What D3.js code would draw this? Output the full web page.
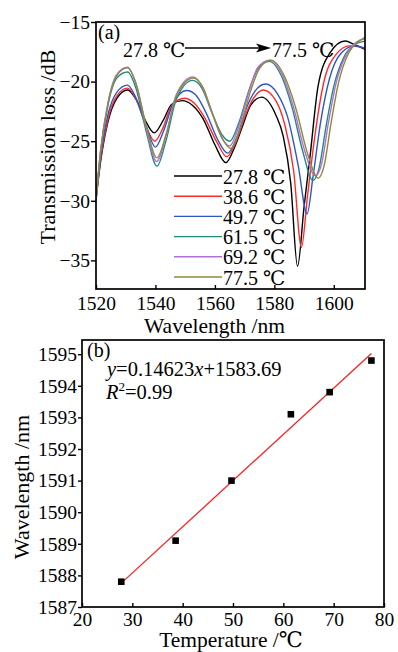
<!DOCTYPE html>
<html>
<head>
<meta charset="utf-8">
<script src="https://cdn.jsdelivr.net/npm/d3@7"></script>
<style>
  html, body { margin: 0; padding: 0; background: #fff; }
  svg { display: block; }
  text { font-family: "Liberation Serif", "Times New Roman", Times, "DejaVu Serif", serif; fill: #000; }
</style>
</head>
<body>
<svg id="chart" width="398" height="652"></svg>
<script>
// ---------- Panel (a): transmission spectra at six temperatures ----------
const wavelengthTicks = [1520, 1540, 1560, 1580, 1600];
const lossTicks = [-15, -20, -25, -30, -35];
const temperatureLabels = ["27.8 ℃", "38.6 ℃", "49.7 ℃", "61.5 ℃", "69.2 ℃", "77.5 ℃"];

// [wavelength (nm), transmission loss (dB)]
const spectrum27_8 = [
  [1520, -29.9], [1521.5, -26.8], [1524, -23.4], [1527, -21.4], [1530.6, -20.7],
  [1533.5, -21.5], [1536.5, -23.2], [1539.6, -24.3], [1542.5, -23.3], [1545.5, -21.9],
  [1549, -21.6], [1552.5, -22.0], [1556, -23.1], [1560, -25.3], [1563.7, -26.8],
  [1566.8, -25.4], [1569.5, -23.6], [1572, -22.0], [1575.7, -21.3], [1580.5, -22.8],
  [1583, -24.6], [1585.5, -28.5], [1587.8, -35.5], [1590, -30.5], [1592, -26.3],
  [1594.7, -20.4], [1598.7, -17.6], [1603.8, -16.6], [1607, -16.9], [1610.5, -17.3]
];
const spectrum38_6 = [
  [1520, -29.8], [1521.5, -26.6], [1524, -23.2], [1527, -21.2], [1530.6, -20.55],
  [1533.5, -21.5], [1536.5, -23.5], [1539.8, -25.0], [1542.5, -23.9], [1545.5, -22.0],
  [1549.8, -21.4], [1553, -21.8], [1556.5, -23.0], [1560.5, -25.0], [1564.0, -26.3],
  [1567.2, -25.0], [1570, -23.0], [1572.5, -21.6], [1576.3, -20.7], [1580.5, -21.6],
  [1583.5, -23.6], [1586.5, -27.5], [1589.1, -33.9], [1591.2, -29.5], [1593.5, -24.8],
  [1596.5, -20.2], [1600.5, -17.8], [1605.3, -17.0], [1608, -17.05], [1610.5, -17.2]
];
const spectrum49_7 = [
  [1520, -29.8], [1521.5, -26.4], [1524, -22.8], [1527, -20.9], [1530.6, -20.3],
  [1533.5, -21.4], [1536.8, -23.7], [1540.0, -25.5], [1542.8, -24.1], [1546, -21.8],
  [1550.5, -20.75], [1553.5, -21.1], [1557, -22.6], [1561, -24.9], [1564.3, -26.0],
  [1567.5, -24.6], [1570.5, -22.3], [1573.5, -20.8], [1577, -20.2], [1581, -21.0],
  [1584.5, -23.0], [1588, -27.0], [1591.0, -31.1], [1593, -28.0], [1595.5, -23.5],
  [1598.5, -19.8], [1602.5, -17.6], [1607, -17.0], [1610.5, -17.2]
];
const spectrum61_5 = [
  [1520, -30.0], [1521.5, -26.0], [1524, -22.0], [1527, -19.7], [1530.6, -19.2],
  [1533.5, -20.6], [1537, -24.3], [1540.5, -27.1], [1543.5, -25.0], [1547, -21.5],
  [1552.5, -19.9], [1555.5, -20.5], [1559, -22.6], [1562.5, -24.5], [1565.0, -25.0],
  [1568, -23.5], [1571.5, -20.7], [1574.5, -18.9], [1578.3, -18.3], [1582.5, -19.6],
  [1586, -22.2], [1589.5, -25.8], [1593.0, -28.3], [1595, -27.3], [1597.5, -23.6],
  [1600, -20.4], [1603.5, -17.9], [1607, -16.9], [1610.5, -16.6]
];
const spectrum69_2 = [
  [1520, -30.0], [1521.5, -25.9], [1524, -21.8], [1527, -19.4], [1530.6, -18.8],
  [1533.5, -20.2], [1537, -24.0], [1540.4, -26.7], [1543.5, -24.6], [1547, -21.1],
  [1552.5, -19.6], [1555.5, -20.3], [1559, -22.6], [1562.5, -24.8], [1565.0, -25.4],
  [1568, -23.8], [1571.5, -20.8], [1574.5, -18.8], [1578.5, -18.2], [1582.8, -19.5],
  [1586.5, -22.2], [1590.2, -25.8], [1593.8, -27.9], [1595.8, -27.0], [1598.3, -23.3],
  [1600.8, -20.1], [1604.3, -17.7], [1607.5, -16.7], [1610.5, -16.4]
];
const spectrum77_5 = [
  [1520, -30.0], [1521.5, -25.9], [1524, -21.9], [1527, -19.5], [1530.6, -18.85],
  [1533.5, -20.2], [1537, -23.8], [1540.5, -26.4], [1543.6, -24.4], [1547.2, -21.1],
  [1552.8, -19.7], [1556, -20.5], [1559.5, -22.9], [1563, -25.0], [1565.3, -25.6],
  [1568.5, -23.9], [1572, -20.8], [1575, -18.9], [1578.8, -18.2], [1583.5, -19.6],
  [1587.3, -22.3], [1591, -25.9], [1594.8, -28.1], [1596.8, -27.0], [1599, -23.6],
  [1601.5, -20.2], [1605, -17.6], [1608, -16.7], [1610.5, -16.3]
];
const spectra = [spectrum27_8, spectrum38_6, spectrum49_7, spectrum61_5, spectrum69_2, spectrum77_5];
const lineColors = ["#000000", "#ff2b2b", "#2f56c6", "#1f8a84", "#b36fd0", "#8d8a40"];

// ---------- Panel (b): dip wavelength versus temperature ----------
const temperatures = [27.8, 38.6, 49.7, 61.5, 69.2, 77.5];
const dipWavelengths = [1587.8, 1589.1, 1591.0, 1593.1, 1593.8, 1594.8];
const temperatureTicks = [20, 30, 40, 50, 60, 70, 80];
const dipTicks = [1587, 1588, 1589, 1590, 1591, 1592, 1593, 1594, 1595];
const fitSlope = 0.14623;
const fitIntercept = 1583.69;

const svg = d3.select("#chart");
const tickFont = 19.5;

function styleAxis(g) {
  g.select(".domain").remove();
  g.selectAll(".tick line").attr("stroke", "#000").attr("stroke-width", 1.4);
  g.selectAll(".tick text")
    .attr("fill", "#000")
    .style("font-family", "'Liberation Serif', 'Times New Roman', Times, serif")
    .style("font-size", tickFont + "px");
}

// ===== Panel (a) =====
const A = { left: 96, right: 365, top: 22, bottom: 289 };
const xA = d3.scaleLinear().domain([1520, 1610.5]).range([A.left, A.right]);
const yA = d3.scaleLinear().domain([-37.4, -15]).range([A.bottom, A.top]);

svg.append("defs").append("clipPath").attr("id", "clipA")
  .append("rect").attr("x", A.left).attr("y", A.top)
  .attr("width", A.right - A.left).attr("height", A.bottom - A.top);

const lineA = d3.line()
  .x(d => xA(d[0])).y(d => yA(d[1]))
  .curve(d3.curveMonotoneX);

svg.append("g").attr("clip-path", "url(#clipA)")
  .selectAll("path").data(spectra).join("path")
  .attr("d", lineA)
  .attr("fill", "none")
  .attr("stroke", (d, i) => lineColors[i])
  .attr("stroke-width", 1.4);

svg.append("g").attr("transform", `translate(0,${A.bottom})`)
  .call(d3.axisBottom(xA).tickValues(wavelengthTicks).tickSize(-4).tickPadding(7).tickFormat(d3.format("d")))
  .call(styleAxis);
svg.append("g").attr("transform", `translate(${A.left},0)`)
  .call(d3.axisLeft(yA).tickValues(lossTicks).tickSize(5).tickPadding(1))
  .call(styleAxis);

svg.append("rect")
  .attr("x", A.left).attr("y", A.top)
  .attr("width", A.right - A.left).attr("height", A.bottom - A.top)
  .attr("fill", "none").attr("stroke", "#000").attr("stroke-width", 1.7);

svg.append("text").attr("x", 214.5).attr("y", 332.5)
  .attr("text-anchor", "middle").style("font-size", "21.5px")
  .text("Wavelength /nm");
svg.append("text")
  .attr("transform", "translate(55,147) rotate(-90)")
  .attr("text-anchor", "middle").style("font-size", "22px")
  .text("Transmission loss /dB");

svg.append("text").attr("x", 98).attr("y", 39).style("font-size", "20px").text("(a)");

// temperature sweep annotation
svg.append("text").attr("x", 123).attr("y", 57).style("font-size", "20px").text(temperatureLabels[0]);
svg.append("text").attr("x", 272).attr("y", 57).style("font-size", "20px").text(temperatureLabels[5]);
svg.append("line").attr("x1", 185).attr("x2", 262).attr("y1", 48).attr("y2", 48)
  .attr("stroke", "#000").attr("stroke-width", 1.3);
svg.append("path").attr("d", "M271,48 L256,43.5 L259.5,48 L256,52.5 Z").attr("fill", "#000");

// legend
const legend = svg.append("g");
const legendRows = legend.selectAll("g").data(temperatureLabels).join("g")
  .attr("transform", (d, i) => `translate(0,${176 + i * 20.2})`);
legendRows.append("line")
  .attr("x1", 174).attr("x2", 222).attr("y1", 0).attr("y2", 0)
  .attr("stroke", (d, i) => lineColors[i]).attr("stroke-width", 1.4);
legendRows.append("text")
  .attr("x", 223).attr("y", 7.5).style("font-size", "20px")
  .text(d => d);

// ===== Panel (b) =====
const B = { left: 82, right: 384, top: 340, bottom: 607 };
const xB = d3.scaleLinear().domain([20, 80]).range([B.left, B.right]);
const yB = d3.scaleLinear().domain([1587, 1595.45]).range([B.bottom, B.top]);

svg.append("g").attr("transform", `translate(0,${B.bottom})`)
  .call(d3.axisBottom(xB).tickValues(temperatureTicks).tickSize(-4).tickPadding(5).tickFormat(d3.format("d")))
  .call(styleAxis);
svg.append("g").attr("transform", `translate(${B.left},0)`)
  .call(d3.axisLeft(yB).tickValues(dipTicks).tickSize(4).tickPadding(1).tickFormat(d3.format("d")))
  .call(styleAxis);

// linear fit across the measured temperature range
const fitRange = d3.extent(temperatures);
svg.append("line")
  .attr("x1", xB(fitRange[0])).attr("y1", yB(fitSlope * fitRange[0] + fitIntercept))
  .attr("x2", xB(fitRange[1])).attr("y2", yB(fitSlope * fitRange[1] + fitIntercept))
  .attr("stroke", "#ff2020").attr("stroke-width", 1.3);

const pts = temperatures.map((t, i) => [t, dipWavelengths[i]]);
svg.append("g").selectAll("rect").data(pts).join("rect")
  .attr("x", d => xB(d[0]) - 3.3).attr("y", d => yB(d[1]) - 3.3)
  .attr("width", 6.6).attr("height", 6.6).attr("fill", "#000");

svg.append("rect")
  .attr("x", B.left).attr("y", B.top)
  .attr("width", B.right - B.left).attr("height", B.bottom - B.top)
  .attr("fill", "none").attr("stroke", "#000").attr("stroke-width", 1.7);

svg.append("text").attr("x", 87).attr("y", 357).style("font-size", "20px").text("(b)");

const eq = svg.append("text").attr("x", 107).attr("y", 376).style("font-size", "20.5px");
eq.append("tspan").style("font-style", "italic").text("y");
eq.append("tspan").text("=" + fitSlope.toFixed(5));
eq.append("tspan").style("font-style", "italic").text("x");
eq.append("tspan").text("+" + fitIntercept.toFixed(2));

const r2 = svg.append("text").attr("x", 106).attr("y", 398.5).style("font-size", "20.5px");
r2.append("tspan").style("font-style", "italic").text("R");
r2.append("tspan").attr("dy", -8).style("font-size", "13px").text("2");
r2.append("tspan").attr("dy", 8).text("=0.99");

svg.append("text").attr("x", 231).attr("y", 647)
  .attr("text-anchor", "middle").style("font-size", "21.5px")
  .text("Temperature /℃");
svg.append("text")
  .attr("transform", "translate(29,487) rotate(-90)")
  .attr("text-anchor", "middle").style("font-size", "22px")
  .text("Wavelength /nm");
</script>
</body>
</html>
